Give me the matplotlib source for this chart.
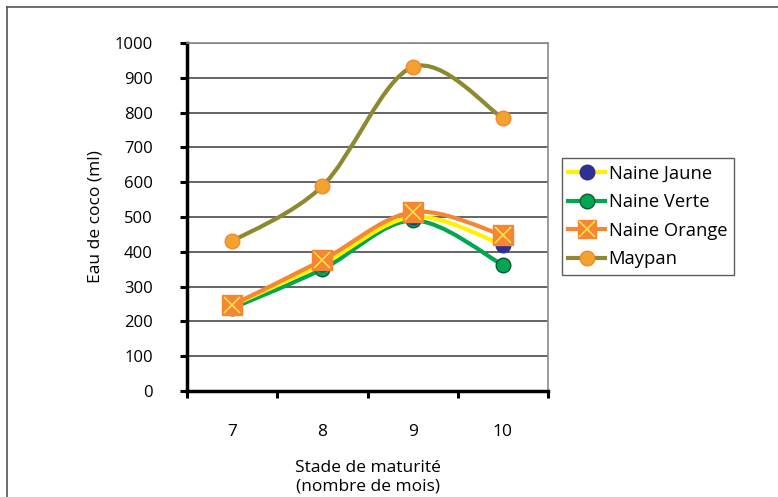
import matplotlib
matplotlib.use("Agg")
import matplotlib.pyplot as plt
from matplotlib.path import Path
from matplotlib.patches import PathPatch
from matplotlib.lines import Line2D
import numpy as np

plt.rcParams['font.family'] = ['Open Sans', 'DejaVu Sans']

categories = ["7", "8", "9", "10"]
naine_jaune = [245, 365, 500, 420]
naine_verte = [238, 350, 490, 362]
naine_orange = [247, 376, 514, 448]
maypan = [430, 589, 931, 784]
y_ticks = [0, 100, 200, 300, 400, 500, 600, 700, 800, 900, 1000]

W, H = 778, 497
fig = plt.figure(figsize=(W / 100, H / 100), dpi=100)
ax = fig.add_axes([187 / W, 1 - 391 / H, (548 - 187) / W, (391 - 43) / H])

x = np.arange(1, len(categories) + 1)


def smooth_patch(xs, ys, color, lw, z):
    pts = np.column_stack([xs, ys]).astype(float)
    n = len(pts)
    verts = [pts[0]]
    codes = [Path.MOVETO]
    for i in range(n - 1):
        p0 = pts[i - 1] if i > 0 else pts[i]
        p1 = pts[i]
        p2 = pts[i + 1]
        p3 = pts[i + 2] if i + 2 < n else pts[i + 1]
        c1 = p1 + (p2 - p0) / 6.0
        c2 = p2 - (p3 - p1) / 6.0
        verts += [c1, c2, p2]
        codes += [Path.CURVE4] * 3
    patch = PathPatch(Path(verts, codes), facecolor='none', edgecolor=color,
                      lw=lw, zorder=z, capstyle='round', joinstyle='round')
    ax.add_patch(patch)


series = [
    ("Naine Verte", naine_verte, "#00a651", "o", "#00a651", "#0b5a2e", 10.5, 3),
    ("Naine Jaune", naine_jaune, "#fff200", "o", "#2e3192", "#2e3192", 10.5, 4),
    ("Naine Orange", naine_orange, "#f58634", "s", "#f58634", "#f58634", 14, 5),
    ("Maypan", maypan, "#8c8a2f", "o", "#f2a32f", "#f58634", 10.5, 6),
]

for name, vals, lc, mk, mfc, mec, ms, z in series:
    smooth_patch(x, vals, lc, 3.0, z)
    ax.plot(x, vals, linestyle='none', marker=mk, ms=ms, mfc=mfc, mec=mec,
            mew=1.0, zorder=z + 0.5)
    if name == "Naine Orange":
        ax.plot(x, vals, linestyle='none', marker='x', ms=12, mec="#ffe14a",
                mew=1.2, zorder=z + 0.6)

ax.set_xlim(0.5, len(categories) + 0.5)
ax.set_ylim(0, 1000)
ax.set_yticks(y_ticks)
ax.set_yticklabels([str(v) for v in y_ticks], fontsize=12)
ax.yaxis.grid(True, color="#3a3a3a", lw=1.1)
ax.set_axisbelow(True)
ax.tick_params(axis='y', direction='out', length=5, width=2.2, pad=19.5, colors='black')

ax.set_xticks(x)
ax.set_xticklabels(categories, fontsize=12.5)
ax.set_xticks(np.arange(0.5, len(categories) + 1, 1), minor=True)
ax.tick_params(axis='x', which='major', length=0, pad=24)
ax.tick_params(axis='x', which='minor', direction='out', length=5, width=2.2)

ax.spines['left'].set_linewidth(2.5)
ax.spines['bottom'].set_linewidth(2.5)
ax.spines['top'].set_color("#8a8a8a")
ax.spines['top'].set_linewidth(1.2)
ax.spines['right'].set_color("#8a8a8a")
ax.spines['right'].set_linewidth(1.2)

ax.set_ylabel("Eau de coco (ml)", fontsize=12.5, labelpad=8)
ax.set_xlabel("Stade de maturité\n(nombre de mois)", fontsize=12.5, labelpad=14,
              linespacing=1.25)

handles = [
    Line2D([], [], color="#fff200", lw=3, marker='o', ms=10.5, mfc="#2e3192", mec="#2e3192"),
    Line2D([], [], color="#00a651", lw=3, marker='o', ms=10.5, mfc="#00a651", mec="#0b5a2e"),
    (Line2D([], [], color="#f58634", lw=3, marker='s', ms=13, mfc="#f58634", mec="#f58634"),
     Line2D([], [], linestyle='none', marker='x', ms=11, mec="#ffe14a", mew=1.2)),
    Line2D([], [], color="#8c8a2f", lw=3, marker='o', ms=10.5, mfc="#f2a32f", mec="#f58634"),
]
labels = ["Naine Jaune", "Naine Verte", "Naine Orange", "Maypan"]
leg = fig.legend(handles, labels, loc='upper left',
                 bbox_to_anchor=(562 / W, 1 - 158 / H), borderaxespad=0,
                 fontsize=13.2, frameon=True, fancybox=False, handlelength=2.0,
                 handletextpad=0.2, labelspacing=0.58, borderpad=0.35)
leg.get_frame().set_edgecolor("#333333")
leg.get_frame().set_linewidth(1.0)

fig.add_artist(Line2D([7 / W, 1], [1 - 7 / H, 1 - 7 / H], color="#555555", lw=1.2,
                      transform=fig.transFigure))
fig.add_artist(Line2D([7 / W, 7 / W], [0, 1 - 7 / H], color="#555555", lw=1.2,
                      transform=fig.transFigure))

fig.savefig("out.png", dpi=100)
